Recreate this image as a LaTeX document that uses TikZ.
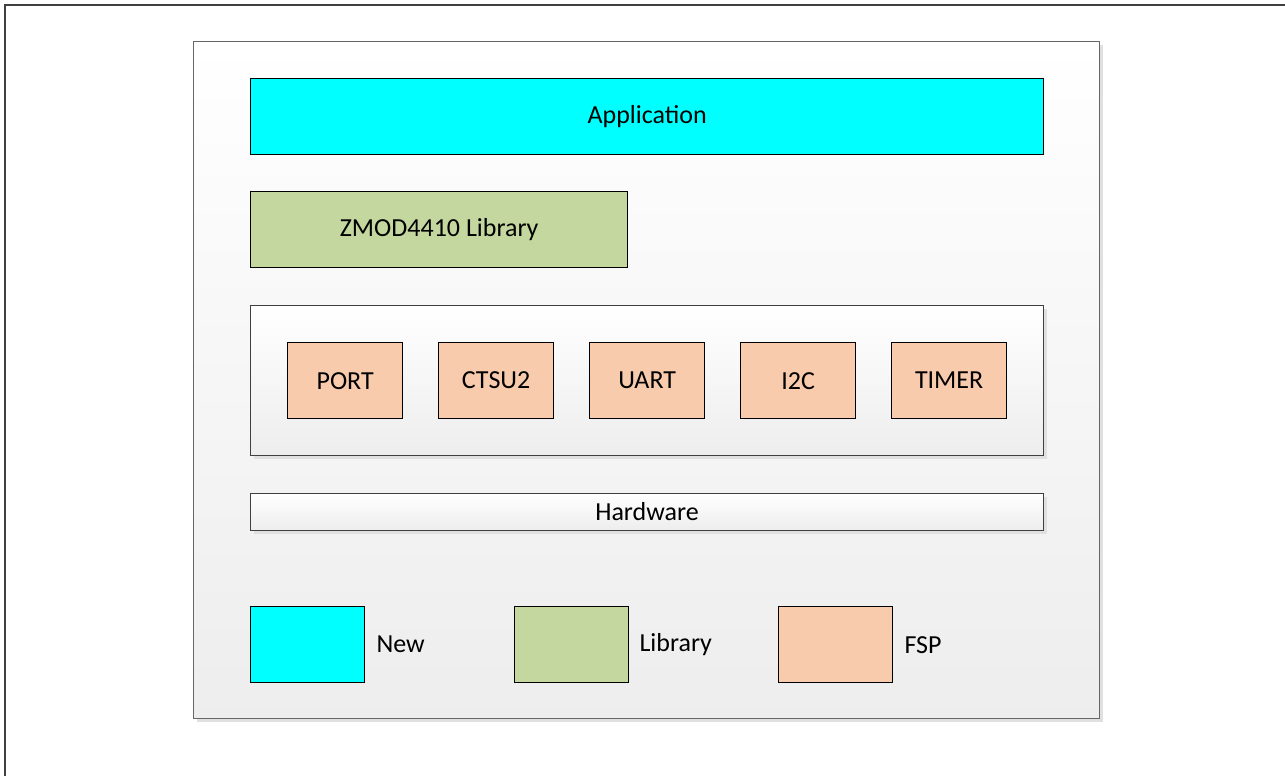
\documentclass[tikz,border=0pt]{standalone}
\usepackage{fontspec}
\setmainfont{Carlito}
\usetikzlibrary{shadows}

\definecolor{newcol}{HTML}{00FFFF}
\definecolor{libcol}{HTML}{C4D79F}
\definecolor{fspcol}{HTML}{F8CBAD}

\tikzset{
  blk/.style={draw=black, line width=1.3pt, anchor=north west, inner sep=0pt,
              minimum height=76pt, font=\fontsize{26}{30}\selectfont},
  panel/.style={draw=black!75, line width=1.1pt, anchor=north west, inner sep=0pt,
                top color=white, bottom color=black!7,
                drop shadow={shadow xshift=3pt, shadow yshift=-3pt, fill=black!12, opacity=1},
                font=\fontsize{26}{30}\selectfont},
  keytext/.style={anchor=west, inner sep=0pt, font=\fontsize{26}{30}\selectfont},
}

\begin{document}
\begin{tikzpicture}[x=1pt, y=-1pt]
  \useasboundingbox (0,0) rectangle (1285,776);
  \draw [black!75, line width=1.5pt] (5,776) -- (5,5) -- (1285,5);

  % outer container
  \node [panel, draw=black!60, minimum width=906pt, minimum height=677pt] (frame) at (193,41) {};

  \node [blk, fill=newcol, minimum width=793pt] (app) at (250,78) {Application};
  \node [blk, fill=libcol, minimum width=377pt] (zmod) at (250,191) {ZMOD4410 Library};

  % FSP drivers
  \node [panel, minimum width=793pt, minimum height=150pt] (fsp) at (250,305) {};
  \foreach \name/\lbl [count=\i from 0] in {port/PORT, ctsu/CTSU2, uart/UART, iic/I2C, timer/TIMER}
    \node [blk, fill=fspcol, minimum width=115pt] (\name) at (287+151*\i,342) {\lbl};

  \node [panel, minimum width=793pt, minimum height=37pt] (hw) at (250,493) {Hardware};

  % key
  \node [blk, fill=newcol, minimum width=114pt] (knew) at (250,606) {};
  \node [blk, fill=libcol, minimum width=114pt] (klib) at (514,606) {};
  \node [blk, fill=fspcol, minimum width=114pt] (kfsp) at (778,606) {};
  \node [keytext] (tnew) at ([xshift=11pt]knew.east) {New};
  \node [keytext] (tlib) at ([xshift=10pt]klib.east) {Library};
  \node [keytext] (tfsp) at ([xshift=11pt]kfsp.east) {FSP};
\end{tikzpicture}
\end{document}
